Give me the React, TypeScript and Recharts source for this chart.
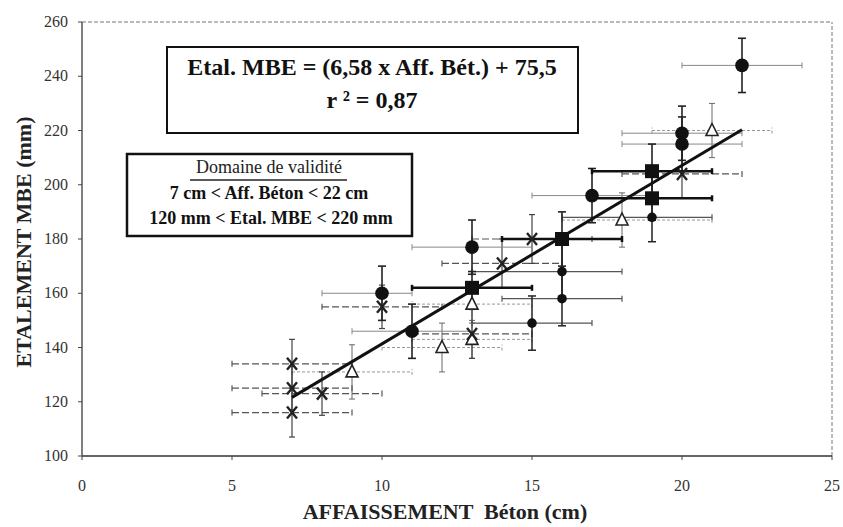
import { ScatterChart, Scatter, XAxis, YAxis, ErrorBar, ReferenceLine } from "recharts";

const xTicks = [0, 5, 10, 15, 20, 25];
const yTicks = [100, 120, 140, 160, 180, 200, 220, 240, 260];

// big filled circles
const circles = [
  { x: 10, y: 160, ex: [2, 1], ey: 10 },
  { x: 11, y: 146, ex: 2, ey: 10 },
  { x: 13, y: 177, ex: 2, ey: 10 },
  { x: 17, y: 196, ex: 2, ey: 10 },
  { x: 20, y: 219, ex: 2, ey: 10 },
  { x: 20, y: 215, ex: 2, ey: 10 },
  { x: 22, y: 244, ex: 2, ey: 10 },
];

// small filled dots
const dots = [
  { x: 15, y: 149, ex: 2, ey: 10 },
  { x: 16, y: 168, ex: [3, 2], ey: 10 },
  { x: 16, y: 158, ex: 2, ey: 10 },
  { x: 19, y: 188, ex: [3, 2], ey: 9 },
];

const squares = [
  { x: 13, y: 162, ex: 2, ey: 6 },
  { x: 16, y: 180, ex: 2, ey: 10 },
  { x: 19, y: 205, ex: 2, ey: 10 },
  { x: 19, y: 195, ex: 2, ey: 8 },
];

const crosses = [
  { x: 7, y: 134, ex: 2, ey: 9 },
  { x: 7, y: 125, ex: 2, ey: 8 },
  { x: 7, y: 116, ex: 2, ey: 9 },
  { x: 8, y: 123, ex: 2, ey: 8 },
  { x: 10, y: 155, ex: 2, ey: 8 },
  { x: 13, y: 145, ex: 2, ey: 9 },
  { x: 14, y: 171, ex: 2, ey: 9 },
  { x: 15, y: 180, ex: 2, ey: 9 },
  { x: 20, y: 204, ex: 2, ey: 9 },
];

const triangles = [
  { x: 9, y: 131, ex: 2, ey: 10 },
  { x: 12, y: 140, ex: 2, ey: 9 },
  { x: 13, y: 156, ex: 2, ey: 7 },
  { x: 13, y: 143, ex: 2, ey: 7 },
  { x: 18, y: 187, ex: [2, 3], ey: 10 },
  { x: 21, y: 220, ex: 2, ey: 10 },
];

// Etal. MBE = 6,58 x Aff. + 75,5 over the validity domain
const fitLine = [
  { x: 7, y: 121.6 },
  { x: 22, y: 220.3 },
];

const serif = "Liberation Serif";

const bigDot = (p: any) => <circle cx={p.cx} cy={p.cy} r={6.8} fill="#111" />;
const smallDot = (p: any) => <circle cx={p.cx} cy={p.cy} r={4.8} fill="#111" />;
const square = (p: any) => <rect x={p.cx - 7} y={p.cy - 7} width={14} height={14} fill="#111" />;
const cross = (p: any) => (
  <g stroke="#222" strokeWidth={2.4}>
    <line x1={p.cx - 5} y1={p.cy - 6} x2={p.cx + 5} y2={p.cy + 6} />
    <line x1={p.cx + 5} y1={p.cy - 6} x2={p.cx - 5} y2={p.cy + 6} />
  </g>
);
const triangle = (p: any) => (
  <path
    d={`M${p.cx},${p.cy - 7} L${p.cx + 6},${p.cy + 5} L${p.cx - 6},${p.cy + 5} Z`}
    fill="#fff"
    stroke="#222"
    strokeWidth={1.6}
  />
);
const noShape = () => <g />;

const XTick = ({ x, y, payload }: any) => (
  <text x={x} y={y} dy={11} textAnchor="middle" fontFamily={serif} fontSize={16} fill="#333">
    {payload.value}
  </text>
);
const YTick = ({ x, y, payload }: any) => (
  <text x={x} y={y} dy={5} textAnchor="end" fontFamily={serif} fontSize={16} fill="#333">
    {payload.value}
  </text>
);

export default function App() {
  return (
    <div
      style={{
        position: "absolute",
        left: 0,
        top: 0,
        width: 843,
        height: 527,
        background: "#fff",
        fontFamily: serif,
      }}
    >
      <ScatterChart width={843} height={527} margin={{ top: 22, right: 11, bottom: 0, left: 20 }}>
        <XAxis
          type="number"
          dataKey="x"
          domain={[0, 25]}
          ticks={xTicks}
          height={71}
          tickSize={4}
          tickMargin={20}
          tick={XTick}
          axisLine={{ stroke: "#333", strokeWidth: 1.5 }}
          tickLine={{ stroke: "#444" }}
        />
        <YAxis
          type="number"
          dataKey="y"
          domain={[100, 260]}
          ticks={yTicks}
          width={62}
          tickSize={4}
          tickMargin={10}
          tick={YTick}
          axisLine={{ stroke: "#555", strokeWidth: 1.5 }}
          tickLine={{ stroke: "#444" }}
        />
        <ReferenceLine y={260} stroke="#777" strokeDasharray="4 2" />
        <ReferenceLine x={25} stroke="#777" strokeDasharray="4 2" />

        <Scatter data={triangles} shape={triangle} isAnimationActive={false}>
          <ErrorBar dataKey="ex" direction="x" width={3} stroke="#999" strokeWidth={1} strokeDasharray="3 2" />
          <ErrorBar dataKey="ey" direction="y" width={3} stroke="#666" strokeWidth={1} />
        </Scatter>
        <Scatter data={crosses} shape={cross} isAnimationActive={false}>
          <ErrorBar dataKey="ex" direction="x" width={3} stroke="#555" strokeWidth={1.2} strokeDasharray="7 3" />
          <ErrorBar dataKey="ey" direction="y" width={3} stroke="#444" strokeWidth={1.2} />
        </Scatter>
        <Scatter data={dots} shape={smallDot} isAnimationActive={false}>
          <ErrorBar dataKey="ex" direction="x" width={3} stroke="#555" strokeWidth={1.2} />
          <ErrorBar dataKey="ey" direction="y" width={4} stroke="#222" strokeWidth={1.5} />
        </Scatter>
        <Scatter data={circles} shape={bigDot} isAnimationActive={false}>
          <ErrorBar dataKey="ex" direction="x" width={3} stroke="#888" strokeWidth={1} />
          <ErrorBar dataKey="ey" direction="y" width={4} stroke="#222" strokeWidth={1.6} />
        </Scatter>
        <Scatter data={squares} shape={square} isAnimationActive={false}>
          <ErrorBar dataKey="ex" direction="x" width={3} stroke="#111" strokeWidth={2.5} />
          <ErrorBar dataKey="ey" direction="y" width={4} stroke="#222" strokeWidth={1.6} />
        </Scatter>
        <Scatter
          data={fitLine}
          shape={noShape}
          line={{ stroke: "#111", strokeWidth: 3 }}
          isAnimationActive={false}
        />
      </ScatterChart>

      <svg
        width={843}
        height={527}
        fontFamily={serif}
        style={{ position: "absolute", left: 0, top: 0, pointerEvents: "none" }}
      >
        <rect x={167} y={47} width={411} height={86} fill="#fff" stroke="#111" strokeWidth={2} />
        <text x={372} y={75} textAnchor="middle" fontSize={24} fontWeight="bold" fill="#111">
          Etal. MBE = (6,58 x Aff. Bét.) + 75,5
        </text>
        <text x={372} y={108} textAnchor="middle" fontSize={24} fontWeight="bold" fill="#111">
          r ² = 0,87
        </text>

        <rect x={127} y={154} width={285} height={82} fill="#fff" stroke="#111" strokeWidth={2.5} />
        <text x={269} y={173} textAnchor="middle" fontSize={18} fill="#222">
          Domaine de validité
        </text>
        <line x1={190} y1={180} x2={347} y2={180} stroke="#222" strokeWidth={1.5} />
        <text x={269} y={199} textAnchor="middle" fontSize={18} fontWeight="bold" fill="#111">
          7 cm &lt; Aff. Béton &lt; 22 cm
        </text>
        <text x={271} y={224} textAnchor="middle" fontSize={18} fontWeight="bold" fill="#111">
          120 mm &lt; Etal. MBE &lt; 220 mm
        </text>

        <text
          x={445}
          y={519}
          textAnchor="middle"
          fontSize={22}
          fontWeight="bold"
          fill="#222"
          style={{ whiteSpace: "pre" }}
        >
          {"AFFAISSEMENT  Béton (cm)"}
        </text>
        <text
          x={31}
          y={242}
          textAnchor="middle"
          fontSize={22}
          fontWeight="bold"
          fill="#222"
          transform="rotate(-90 31 242)"
        >
          ETALEMENT MBE (mm)
        </text>
      </svg>
    </div>
  );
}
